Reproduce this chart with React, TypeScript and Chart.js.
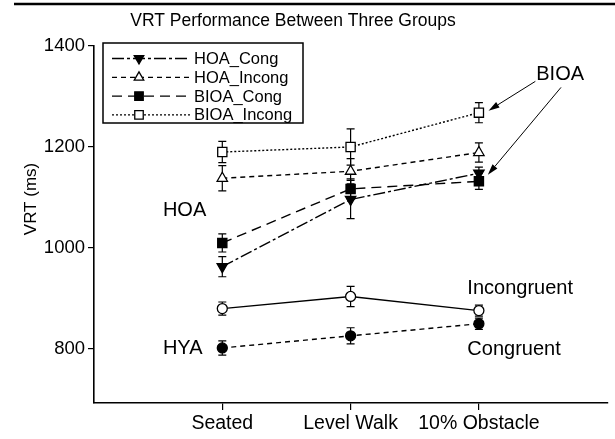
import React, { useEffect, useRef } from "react";
import { Chart, registerables } from "chart.js";

Chart.register(...registerables);

// ---- data ----
const categories = ["Seated", "Level Walk", "10% Obstacle"];
const yTicks = [800, 1000, 1200, 1400];

const hoaCong = [963, 1096, 1148];
const hoaCongErr = [20, 38, 12];
const hoaIncong = [1138, 1152, 1189];
const hoaIncongErr = [25, 25, 19];
const bioaCong = [1010, 1117, 1132];
const bioaCongErr = [18, 20, 16];
const bioaIncong = [1190, 1200, 1268];
const bioaIncongErr = [21, 36, 20];
const hyaIncong = [880, 904, 876];
const hyaIncongErr = [13, 20, 11];
const hyaCong = [802, 826, 850];
const hyaCongErr = [14, 16, 11];

const FONT = "'Liberation Sans', Arial, Helvetica, sans-serif";

type Series = {
  label: string;
  values: number[];
  errors: number[];
  dash: number[];
  point: string;
  rot: number;
  filled: boolean;
  radius: number;
  legend: boolean;
};

const series: Series[] = [
  { label: "HOA_Cong", values: hoaCong, errors: hoaCongErr, dash: [12, 3, 3, 3], point: "triangle", rot: 180, filled: true, radius: 6, legend: true },
  { label: "HOA_Incong", values: hoaIncong, errors: hoaIncongErr, dash: [5, 4], point: "triangle", rot: 0, filled: false, radius: 6, legend: true },
  { label: "BIOA_Cong", values: bioaCong, errors: bioaCongErr, dash: [10, 6], point: "rect", rot: 0, filled: true, radius: 6.5, legend: true },
  { label: "BIOA_Incong", values: bioaIncong, errors: bioaIncongErr, dash: [2, 2], point: "rect", rot: 0, filled: false, radius: 6.5, legend: true },
  { label: "HYA_Incong", values: hyaIncong, errors: hyaIncongErr, dash: [], point: "circle", rot: 0, filled: false, radius: 5, legend: false },
  { label: "HYA_Cong", values: hyaCong, errors: hyaCongErr, dash: [5, 4], point: "circle", rot: 0, filled: true, radius: 5, legend: false },
];

function drawMarker(ctx: CanvasRenderingContext2D, s: Series, x: number, y: number) {
  const r = s.radius;
  ctx.save();
  ctx.setLineDash([]);
  ctx.lineWidth = 1.3;
  ctx.strokeStyle = "#000";
  ctx.fillStyle = s.filled ? "#000" : "#fff";
  ctx.beginPath();
  if (s.point === "circle") {
    ctx.arc(x, y, r, 0, Math.PI * 2);
  } else if (s.point === "rect") {
    const h = r * Math.SQRT1_2;
    ctx.rect(x - h, y - h, 2 * h, 2 * h);
  } else {
    let rad = (s.rot * Math.PI) / 180;
    ctx.moveTo(x + Math.sin(rad) * r, y - Math.cos(rad) * r);
    rad += (2 * Math.PI) / 3;
    ctx.lineTo(x + Math.sin(rad) * r, y - Math.cos(rad) * r);
    rad += (2 * Math.PI) / 3;
    ctx.lineTo(x + Math.sin(rad) * r, y - Math.cos(rad) * r);
    ctx.closePath();
  }
  ctx.fill();
  ctx.stroke();
  ctx.restore();
}

function arrow(ctx: CanvasRenderingContext2D, x1: number, y1: number, x2: number, y2: number) {
  const ang = Math.atan2(y2 - y1, x2 - x1);
  const len = 11;
  const w = 3.2;
  const bx = x2 - Math.cos(ang) * len;
  const by = y2 - Math.sin(ang) * len;
  ctx.beginPath();
  ctx.moveTo(x1, y1);
  ctx.lineTo(bx, by);
  ctx.stroke();
  ctx.beginPath();
  ctx.moveTo(x2, y2);
  ctx.lineTo(bx + Math.sin(ang) * w, by - Math.cos(ang) * w);
  ctx.lineTo(bx - Math.sin(ang) * w, by + Math.cos(ang) * w);
  ctx.closePath();
  ctx.fill();
}

const errorBarPlugin = {
  id: "errorBars",
  beforeDatasetsDraw(chart: any) {
    const ctx: CanvasRenderingContext2D = chart.ctx;
    const xs = chart.scales.x;
    const ys = chart.scales.y;
    ctx.save();
    ctx.strokeStyle = "#000";
    ctx.lineWidth = 1.2;
    ctx.setLineDash([]);
    series.forEach((s) => {
      s.values.forEach((v, j) => {
        const x = xs.getPixelForValue(j + 1);
        const yt = ys.getPixelForValue(v + s.errors[j]);
        const yb = ys.getPixelForValue(v - s.errors[j]);
        ctx.beginPath();
        ctx.moveTo(x, yt);
        ctx.lineTo(x, yb);
        ctx.moveTo(x - 4, yt);
        ctx.lineTo(x + 4, yt);
        ctx.moveTo(x - 4, yb);
        ctx.lineTo(x + 4, yb);
        ctx.stroke();
      });
    });
    ctx.restore();
  },
};

const decorPlugin = {
  id: "decor",
  afterDraw(chart: any) {
    const ctx: CanvasRenderingContext2D = chart.ctx;
    const xs = chart.scales.x;
    const ys = chart.scales.y;
    const px = (v: number) => xs.getPixelForValue(v);
    const py = (v: number) => ys.getPixelForValue(v);
    ctx.save();
    ctx.fillStyle = "#000";
    ctx.strokeStyle = "#000";

    // top rule
    ctx.lineWidth = 2.5;
    ctx.beginPath();
    ctx.moveTo(14, 4);
    ctx.lineTo(615, 4);
    ctx.stroke();

    // title
    ctx.font = `17.5px ${FONT}`;
    ctx.textAlign = "center";
    ctx.textBaseline = "middle";
    ctx.fillText("VRT Performance Between Three Groups", 293, 21);

    // y title
    ctx.save();
    ctx.translate(31, 199);
    ctx.rotate(-Math.PI / 2);
    ctx.font = `17px ${FONT}`;
    ctx.fillText("VRT (ms)", 0, 0);
    ctx.restore();

    // annotations
    ctx.font = `20px ${FONT}`;
    ctx.textAlign = "left";
    ctx.fillText("HOA", px(0.537), py(1074));
    ctx.fillText("HYA", px(0.537), py(800));
    ctx.fillText("BIOA", px(3.447), py(1344));
    ctx.fillText("Incongruent", px(2.91), py(919));
    ctx.fillText("Congruent", px(2.91), py(798));

    ctx.lineWidth = 1;
    arrow(ctx, px(3.44), py(1330), px(3.075), py(1272));
    arrow(ctx, px(3.64), py(1318), px(3.07), py(1145));

    // legend
    const lx = 103, ly = 43, lw = 200, lh = 80;
    ctx.fillStyle = "#fff";
    ctx.fillRect(lx, ly, lw, lh);
    ctx.lineWidth = 1.5;
    ctx.strokeRect(lx, ly, lw, lh);
    ctx.font = `16.5px ${FONT}`;
    ctx.textBaseline = "middle";
    const rows = series.filter((s) => s.legend);
    rows.forEach((s, i) => {
      const yy = 58.5 + i * 18.8;
      ctx.save();
      ctx.lineWidth = 1.3;
      ctx.setLineDash(s.dash);
      ctx.beginPath();
      ctx.moveTo(112, yy);
      ctx.lineTo(190, yy);
      ctx.stroke();
      ctx.restore();
      drawMarker(ctx, { ...s, radius: s.radius - 0.5 }, 139, yy);
      ctx.fillStyle = "#000";
      ctx.fillText(s.label, 194, yy + 1);
    });
    ctx.restore();
  },
};

export default function App() {
  const ref = useRef<HTMLCanvasElement | null>(null);

  useEffect(() => {
    document.body.style.margin = "0";
    const canvas = ref.current;
    if (!canvas) return;
    const chart = new Chart(canvas, {
      type: "line",
      data: {
        datasets: series.map((s) => ({
          label: s.label,
          data: s.values.map((v, j) => ({ x: j + 1, y: v })),
          borderColor: "#000",
          borderWidth: 1.4,
          borderDash: s.dash,
          backgroundColor: s.filled ? "#000" : "#fff",
          pointBackgroundColor: s.filled ? "#000" : "#fff",
          pointBorderColor: "#000",
          pointBorderWidth: 1.3,
          pointStyle: s.point as any,
          pointRotation: s.rot,
          pointRadius: s.radius,
          tension: 0,
          fill: false,
        })),
      },
      options: {
        animation: false,
        responsive: false,
        layout: { padding: { top: 46, right: 7, left: 0, bottom: 0 } },
        plugins: {
          legend: { display: false },
          title: { display: false },
          tooltip: { enabled: false },
        },
        scales: {
          x: {
            type: "linear",
            min: 0,
            max: 4,
            afterBuildTicks: (scale: any) => {
              scale.ticks = categories.map((_, i) => ({ value: i + 1 }));
            },
            afterFit: (scale: any) => {
              scale.height = 36;
            },
            ticks: {
              callback: (v: any) => categories[Number(v) - 1] ?? "",
              color: "#000",
              font: { family: FONT, size: 19.5 },
              padding: 2,
              maxRotation: 0,
              autoSkip: false,
            },
            grid: { drawOnChartArea: false, drawTicks: true, tickLength: 7, color: "#000", lineWidth: 1.2 },
            border: { display: true, color: "#000", width: 1.6 },
          },
          y: {
            type: "linear",
            min: 693,
            max: 1400,
            afterBuildTicks: (scale: any) => {
              scale.ticks = yTicks.map((v) => ({ value: v }));
            },
            afterFit: (scale: any) => {
              scale.width = 94;
            },
            ticks: {
              callback: (v: any) => String(v),
              color: "#000",
              font: { family: FONT, size: 18.5 },
              padding: 3,
            },
            grid: { drawOnChartArea: false, drawTicks: true, tickLength: 6, color: "#000", lineWidth: 1.2 },
            border: { display: true, color: "#000", width: 1.6 },
          },
        },
      },
      plugins: [errorBarPlugin, decorPlugin],
    } as any);
    return () => chart.destroy();
  }, []);

  return <canvas ref={ref} width={615} height={439} style={{ display: "block" }} />;
}
